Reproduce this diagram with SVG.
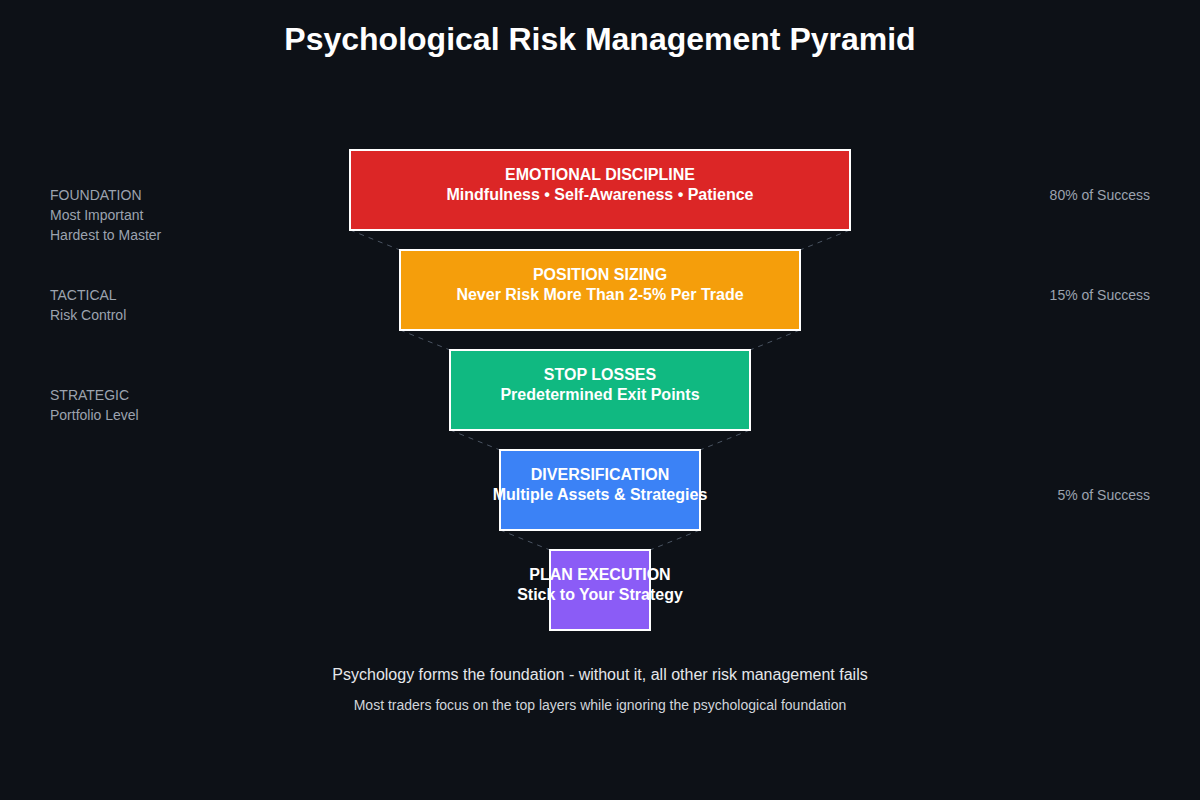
<svg xmlns="http://www.w3.org/2000/svg" width="1200" height="800" viewBox="0 0 1200 800">
<style>
.bg{fill:#0d1117}
.box{stroke:#ffffff;stroke-width:2}
.lt{font-family:"Liberation Sans",Arial,sans-serif;font-weight:bold;font-size:16px;fill:#ffffff;text-anchor:middle}
.side{font-family:"Liberation Sans",Arial,sans-serif;font-size:14px;fill:#9ca3af}
.r{text-anchor:end}
.conn{stroke:#4b5563;stroke-width:1;stroke-dasharray:5,5;fill:none}
</style>
<rect class="bg" x="0" y="0" width="1200" height="800"/>
<text x="600" y="50" font-family="'Liberation Sans',Arial,sans-serif" font-size="32" font-weight="bold" fill="#ffffff" text-anchor="middle">Psychological Risk Management Pyramid</text>
<g id="connectors">
<line class="conn" x1="350" y1="230" x2="400" y2="250"/>
<line class="conn" x1="850" y1="230" x2="800" y2="250"/>
<line class="conn" x1="400" y1="330" x2="450" y2="350"/>
<line class="conn" x1="800" y1="330" x2="750" y2="350"/>
<line class="conn" x1="450" y1="430" x2="500" y2="450"/>
<line class="conn" x1="750" y1="430" x2="700" y2="450"/>
<line class="conn" x1="500" y1="530" x2="550" y2="550"/>
<line class="conn" x1="700" y1="530" x2="650" y2="550"/>
</g>
<g id="emotional-discipline">
<rect class="box" x="350" y="150" width="500" height="80" fill="#dc2626"/>
<text class="lt" x="600" y="180">EMOTIONAL DISCIPLINE</text>
<text class="lt" x="600" y="200">Mindfulness • Self-Awareness • Patience</text>
</g>
<g id="position-sizing">
<rect class="box" x="400" y="250" width="400" height="80" fill="#f59e0b"/>
<text class="lt" x="600" y="280">POSITION SIZING</text>
<text class="lt" x="600" y="300">Never Risk More Than 2-5% Per Trade</text>
</g>
<g id="stop-losses">
<rect class="box" x="450" y="350" width="300" height="80" fill="#10b981"/>
<text class="lt" x="600" y="380">STOP LOSSES</text>
<text class="lt" x="600" y="400">Predetermined Exit Points</text>
</g>
<g id="diversification">
<rect class="box" x="500" y="450" width="200" height="80" fill="#3b82f6"/>
<text class="lt" x="600" y="480">DIVERSIFICATION</text>
<text class="lt" x="600" y="500">Multiple Assets &amp; Strategies</text>
</g>
<g id="plan-execution">
<rect class="box" x="550" y="550" width="100" height="80" fill="#8b5cf6"/>
<text class="lt" x="600" y="580">PLAN EXECUTION</text>
<text class="lt" x="600" y="600">Stick to Your Strategy</text>
</g>
<g id="left-labels">
<text class="side" x="50" y="200">FOUNDATION</text>
<text class="side" x="50" y="220">Most Important</text>
<text class="side" x="50" y="240">Hardest to Master</text>
<text class="side" x="50" y="300">TACTICAL</text>
<text class="side" x="50" y="320">Risk Control</text>
<text class="side" x="50" y="400">STRATEGIC</text>
<text class="side" x="50" y="420">Portfolio Level</text>
</g>
<g id="right-labels">
<text class="side r" x="1150" y="200">80% of Success</text>
<text class="side r" x="1150" y="300">15% of Success</text>
<text class="side r" x="1150" y="500">5% of Success</text>
</g>
<text x="600" y="680" font-family="'Liberation Sans',Arial,sans-serif" font-size="16" fill="#e5e7eb" text-anchor="middle">Psychology forms the foundation - without it, all other risk management fails</text>
<text x="600" y="710" font-family="'Liberation Sans',Arial,sans-serif" font-size="14" fill="#d1d5db" text-anchor="middle">Most traders focus on the top layers while ignoring the psychological foundation</text>
</svg>
